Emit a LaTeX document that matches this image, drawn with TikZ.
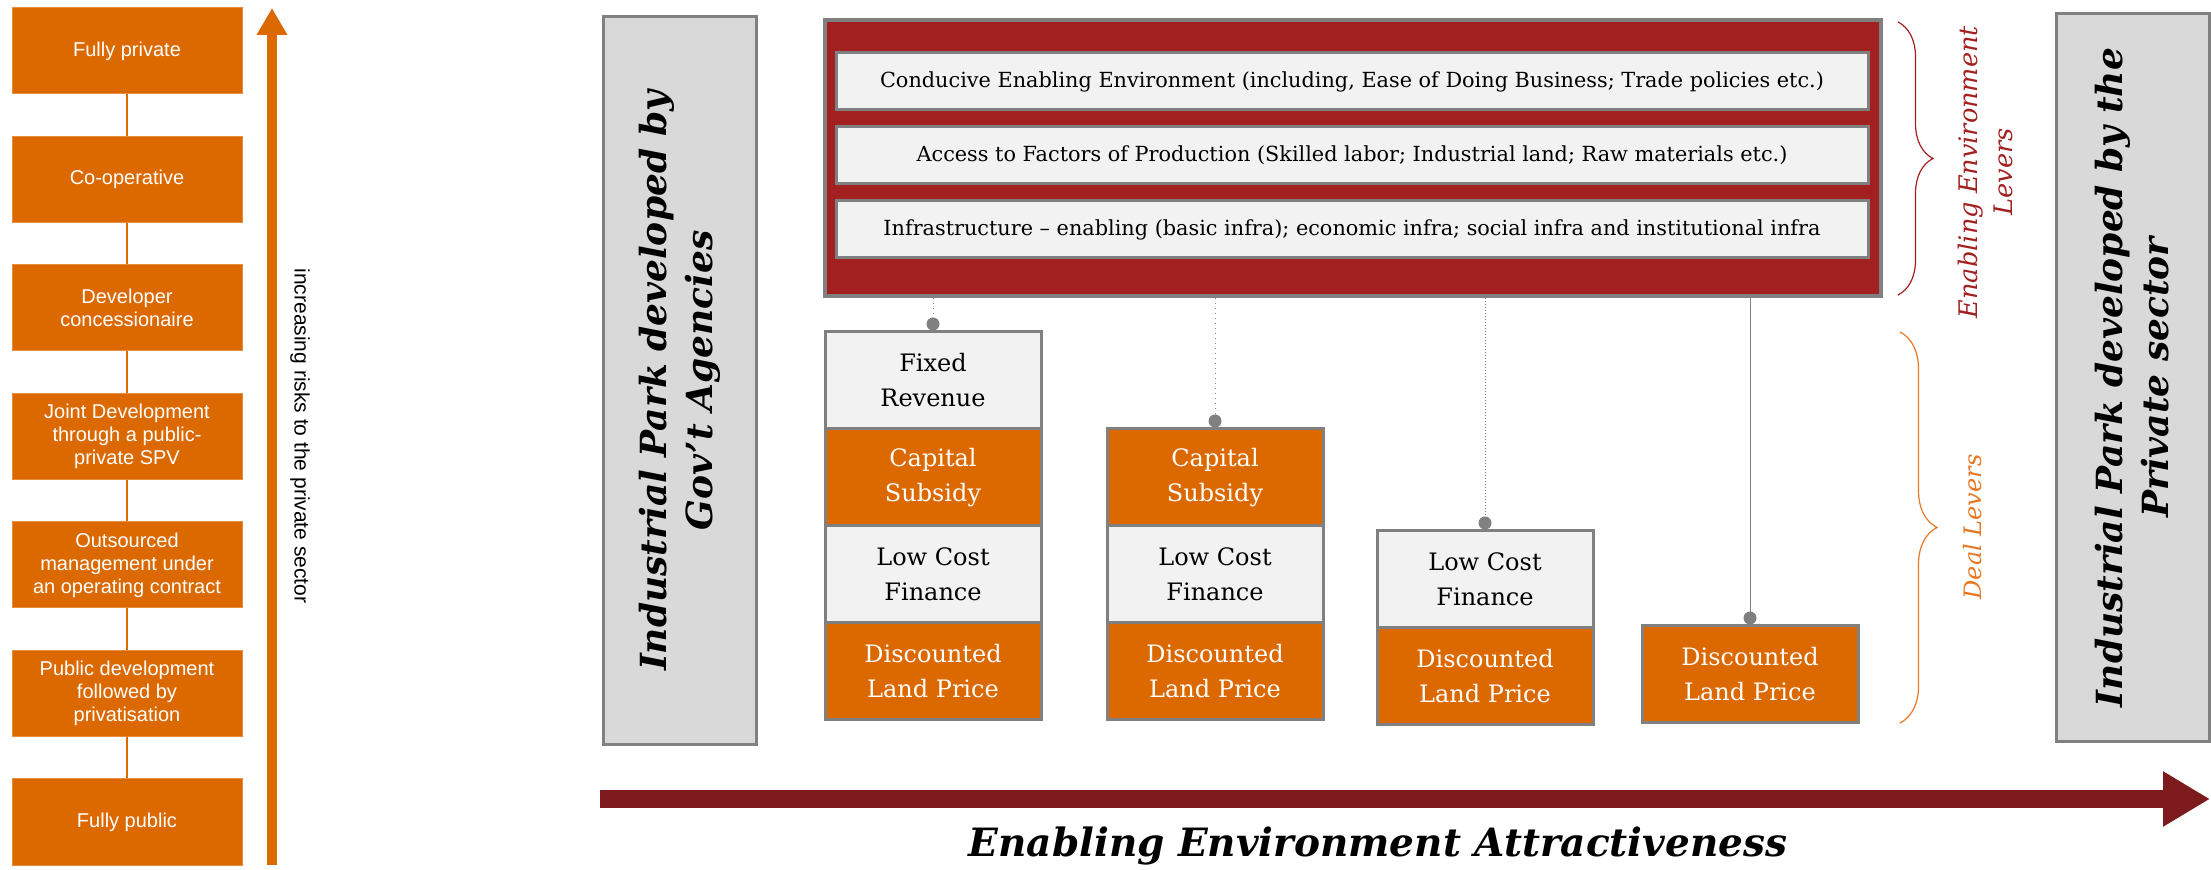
\documentclass[tikz,border=0pt]{standalone}
\usepackage{fontspec}
\setmainfont{DejaVu Serif}
\newfontfamily\arialfont{Liberation Sans}
\usetikzlibrary{arrows.meta,decorations.pathreplacing}

\definecolor{pwcorange}{HTML}{DC6900}
\definecolor{pwcred}{HTML}{A32020}
\definecolor{pwcwine}{HTML}{7D1A1D}
\definecolor{leverorange}{HTML}{E87722}
\definecolor{boxgray}{HTML}{D9D9D9}
\definecolor{rowgray}{HTML}{F2F2F2}
\definecolor{edgegray}{HTML}{808080}

\begin{document}
\begin{tikzpicture}[x=0.5pt, y=-0.5pt,
	model/.style={draw=pwcorange!75!white, line width=0.5pt, fill=pwcorange, text=white, align=center,
		minimum width=115pt, minimum height=43pt, inner sep=1pt, font=\arialfont\fontsize{10}{11.5}\selectfont},
	park/.style={draw=edgegray, line width=1.5pt, fill=boxgray, rotate=90, align=center,
		minimum width=364pt, minimum height=76.5pt, font=\bfseries\itshape\fontsize{18}{23}\selectfont},
	factor/.style={draw=edgegray, line width=1.5pt, fill=rowgray, minimum width=516pt, minimum height=28.5pt,
		inner sep=0pt, font=\fontsize{10.4}{12}\selectfont},
	lever/.style={draw=edgegray, line width=1.5pt, minimum width=108pt, minimum height=48.5pt,
		align=center, inner sep=0pt, font=\fontsize{12}{17.5}\selectfont},
	light/.style={lever, fill=rowgray, text=black},
	dark/.style={lever, fill=pwcorange, text=white},
	tie/.style={edgegray, line width=0.5pt, -{Circle[length=6.5pt]}},
	levers/.style={decorate, line width=0.6pt},
	]
	\useasboundingbox (0,0) rectangle (2211,870);

	% ownership models, public at the bottom
	\foreach \i/\txt in {1/{Fully private}, 2/{Co-operative}, 3/{Developer\\concessionaire},
		4/{Joint Development\\through a public-\\private SPV}, 5/{Outsourced\\management under\\an operating contract},
		6/{Public development\\followed by\\privatisation}, 7/{Fully public}}
		\node[model] (m\i) at (127, {51+128.5*(\i-1)}) {\txt};
	\foreach \a/\b in {1/2,2/3,3/4,4/5,5/6,6/7}
		\draw[pwcorange, line width=1pt] (m\a) -- (m\b);
	\draw[pwcorange, line width=5pt, -{Triangle[width=14.5pt, length=13.5pt]}] (272,865) -- (272,8);
	\node[rotate=-90, font=\arialfont\fontsize{10.5}{12}\selectfont] (risk) at (300,436) {increasing risks to the private sector};

	% the two ends of the scale
	\node[park] (gov) at (679.5,380.5) {Industrial Park developed by\\Gov’t Agencies};
	\node[park] (pvt) at (2132.5,377.5) {Industrial Park developed by the\\Private sector};

	% enabling environment levers
	\node[draw=edgegray, line width=2pt, fill=pwcred, minimum width=528pt, minimum height=138pt] (env) at (1353,158) {};
	\node[factor] (f1) at (1352,81.5) {Conducive Enabling Environment (including, Ease of Doing Business; Trade policies etc.)};
	\node[factor] (f2) at (1352,155.5) {Access to Factors of Production (Skilled labor; Industrial land; Raw materials etc.)};
	\node[factor] (f3) at (1352,229.5) {Infrastructure -- enabling (basic infra); economic infra; social infra and institutional infra};

	% deal levers
	\node[light] (fr1) at (933,380.5) {Fixed\\Revenue};
	\node[dark] (cs1) at (933,477.5) {Capital\\Subsidy};
	\node[light] (lc1) at (933,574.5) {Low Cost\\Finance};
	\node[dark] (dl1) at (933,671.5) {Discounted\\Land Price};
	\node[dark] (cs2) at (1215,477.5) {Capital\\Subsidy};
	\node[light] (lc2) at (1215,574.5) {Low Cost\\Finance};
	\node[dark] (dl2) at (1215,671.5) {Discounted\\Land Price};
	\node[light] (lc3) at (1485,579.5) {Low Cost\\Finance};
	\node[dark] (dl3) at (1485,676.5) {Discounted\\Land Price};
	\node[dark] (dl4) at (1750,674.5) {Discounted\\Land Price};

	\draw[tie, dotted] (env.south -| fr1.north) -- (fr1.north);
	\draw[tie, dotted] (env.south -| cs2.north) -- (cs2.north);
	\draw[tie, densely dotted] (env.south -| lc3.north) -- (lc3.north);
	\draw[tie] (env.south -| dl4.north) -- (dl4.north);

	% braces
	\draw[levers, pwcred, decoration={brace, amplitude=17.5pt}] (1898,22) -- (1898,295);
	\node[rotate=90, align=center, text=pwcred, font=\itshape\fontsize{12.8}{17.5}\selectfont] (envlab) at (1985,172) {Enabling Environment\\Levers};
	\draw[levers, leverorange, decoration={brace, amplitude=18.5pt}] (1900,332) -- (1900,723);
	\node[rotate=90, text=leverorange, font=\itshape\fontsize{12}{14}\selectfont] (deallab) at (1973,527) {Deal Levers};

	% attractiveness axis
	\coordinate (axis0) at (600,799);
	\coordinate (axis1) at (2210,799);
	\draw[pwcwine, line width=9pt, -{Triangle[width=26pt, length=23.5pt]}] (axis0) -- (axis1);
	\node[font=\bfseries\itshape\fontsize{19.5}{22}\selectfont] (axislab) at (1378,846) {Enabling Environment Attractiveness};

\end{tikzpicture}
\end{document}
